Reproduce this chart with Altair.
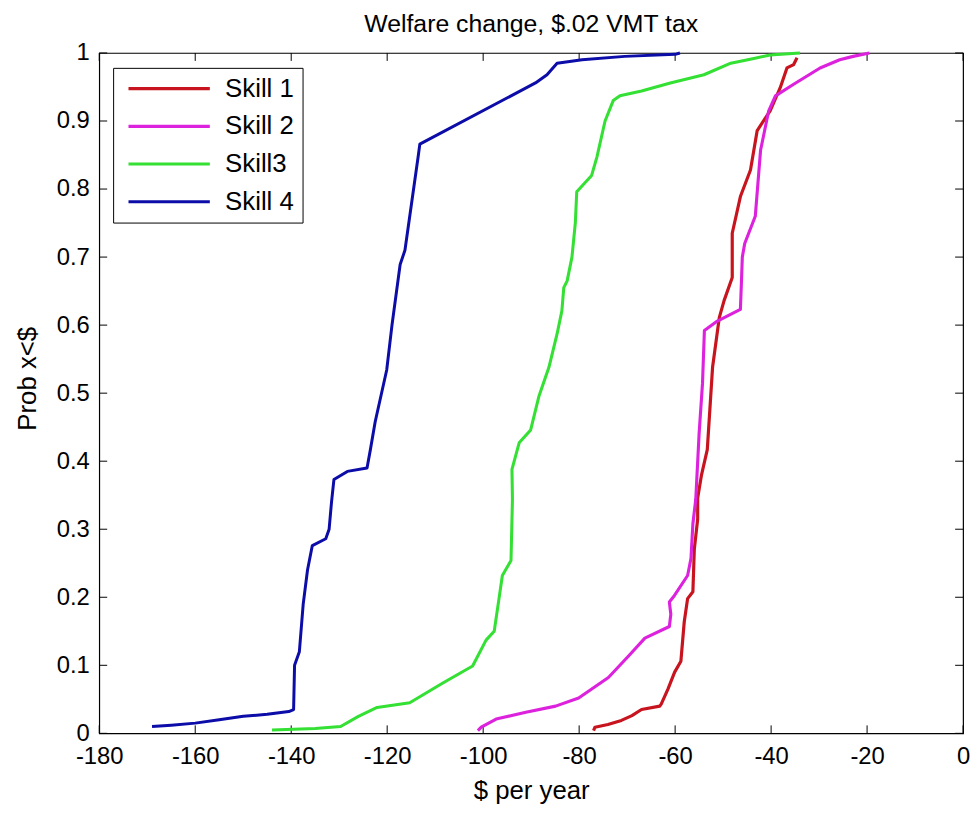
import altair as alt
import pandas as pd

# ---- data ----
SERIES = ["Skill 1", "Skill 2", "Skill3", "Skill 4"]
COLORS = ["#c8141e", "#dd22dd", "#33e033", "#0c0ca8"]
WIDTHS = [3.2, 3.0, 3.2, 4.0]

SKILL1_X = [-77.0, -76.7, -74.0, -71.2, -69.0, -67.0, -63.2, -62.9, -61.5, -60.1, -58.8, -58.1, -57.4,
            -56.3, -56.0, -55.3, -55.3, -54.5, -53.3, -52.2, -50.8, -49.8, -48.1, -48.1, -48.1, -46.4,
            -44.3, -42.9, -40.2, -38.1, -36.7, -35.3, -34.6]
SKILL1_P = [0.004, 0.009, 0.013, 0.019, 0.026, 0.035, 0.04, 0.043, 0.065, 0.09, 0.106, 0.164, 0.198,
            0.208, 0.271, 0.315, 0.346, 0.38, 0.417, 0.538, 0.611, 0.636, 0.67, 0.708, 0.735, 0.789,
            0.828, 0.886, 0.915, 0.949, 0.978, 0.983, 0.993]

SKILL2_X = [-101.1, -100.4, -97.3, -91.1, -84.9, -80.1, -73.9, -69.8, -66.3, -61.2, -60.9, -61.2,
            -60.1, -57.4, -56.7, -56.3, -55.7, -55.0, -54.3, -53.9, -51.2, -46.4, -46.2, -46.0, -45.5,
            -43.3, -42.2, -40.5, -39.1, -35.3, -29.8, -25.7, -22.9, -19.5]
SKILL2_P = [0.004, 0.009, 0.021, 0.031, 0.04, 0.052, 0.082, 0.113, 0.14, 0.157, 0.175, 0.193,
            0.203, 0.232, 0.257, 0.308, 0.344, 0.441, 0.514, 0.592, 0.606, 0.623, 0.66, 0.70, 0.72,
            0.76, 0.857, 0.915, 0.937, 0.954, 0.978, 0.99, 0.995, 1.0]

SKILL3_X = [-144.0, -135.0, -129.7, -126.0, -122.1, -115.3, -108.4, -102.2, -99.4, -97.7, -96.7,
            -96.0, -94.2, -93.9, -94.0, -92.5, -90.1, -88.4, -86.3, -84.6, -83.6, -83.2, -82.5, -81.5,
            -80.8, -80.5, -77.4, -76.3, -74.6, -72.9, -71.5, -67.0, -61.0, -54.0, -48.4, -43.6, -40.2,
            -34.0]
SKILL3_P = [0.005, 0.007, 0.01, 0.025, 0.038, 0.045, 0.074, 0.099, 0.137, 0.15, 0.198,
            0.232, 0.254, 0.344, 0.388, 0.427, 0.446, 0.495, 0.538, 0.587, 0.621, 0.655, 0.665, 0.70,
            0.75, 0.796, 0.82, 0.847, 0.90, 0.93, 0.937, 0.944, 0.956, 0.968, 0.985, 0.992, 0.997,
            1.0]

SKILL4_X = [-169.0, -165.0, -160.0, -155.0, -150.0, -145.0, -140.5, -139.5, -139.3, -138.3, -137.5,
            -136.6, -135.6, -132.8, -132.1, -131.6, -131.1, -128.3, -124.2, -123.5, -122.5, -120.1,
            -119.0, -117.3, -116.3, -113.5, -113.2, -89.1, -86.7, -84.6, -79.4, -70.5, -60.0, -59.0]
SKILL4_P = [0.01, 0.012, 0.015, 0.02, 0.025, 0.028, 0.032, 0.035, 0.10, 0.12, 0.19,
            0.24, 0.276, 0.286, 0.30, 0.34, 0.373, 0.385, 0.39, 0.417, 0.458, 0.534,
            0.60, 0.689, 0.71, 0.85, 0.866, 0.956, 0.968, 0.985, 0.99, 0.995, 0.998, 1.0]

X_TICKS = [-180, -160, -140, -120, -100, -80, -60, -40, -20, 0]
Y_TICKS = [0, 0.1, 0.2, 0.3, 0.4, 0.5, 0.6, 0.7, 0.8, 0.9, 1]

TITLE = "Welfare change, $.02 VMT tax"
X_TITLE = "$ per year"
Y_TITLE = "Prob x<$"

# ---- build table ----
rows = []
for name, xs, ps in zip(SERIES, [SKILL1_X, SKILL2_X, SKILL3_X, SKILL4_X],
                        [SKILL1_P, SKILL2_P, SKILL3_P, SKILL4_P]):
    for i, (x, p) in enumerate(zip(xs, ps)):
        rows.append({"series": name, "x": x, "p": p, "order": i})
df = pd.DataFrame(rows)
xt = pd.DataFrame({"v": X_TICKS})
yt = pd.DataFrame({"v": Y_TICKS})

W, H = 871, 686
FONT = "Liberation Sans"
TL = 8  # inward tick length

xscale = alt.Scale(domain=[-180, 0], nice=False, zero=False)
yscale = alt.Scale(domain=[0, 1], nice=False, zero=False)

lines = alt.Chart(df).mark_line(strokeJoin="round").encode(
    x=alt.X("x:Q", scale=xscale, title=X_TITLE,
            axis=alt.Axis(values=X_TICKS, ticks=False, tickSize=0, domain=False, grid=False,
                          labelFontSize=24, labelFont=FONT, labelColor="black",
                          labelPadding=23, labelBaseline="middle", labelFlush=False,
                          labelOverlap=False,
                          labelExpr="datum.value < 0 ? '-' + (-datum.value) : '' + datum.value",
                          titleFontSize=26, titleFont=FONT, titleFontWeight="normal",
                          titleColor="black", titleY=58, titleBaseline="middle")),
    y=alt.Y("p:Q", scale=yscale, title=Y_TITLE,
            axis=alt.Axis(values=Y_TICKS, ticks=False, tickSize=0, domain=False, grid=False,
                          labelFontSize=24, labelFont=FONT, labelColor="black",
                          labelPadding=10, labelBaseline="middle", labelFlush=False,
                          labelOverlap=False,
                          labelExpr="'' + datum.value",
                          titleFontSize=26, titleFont=FONT, titleFontWeight="normal",
                          titleColor="black", titleX=-72, titleY=H / 2 - 15, titleAngle=270,
                          titleBaseline="middle", titleAlign="center")),
    color=alt.Color("series:N", scale=alt.Scale(domain=SERIES, range=COLORS),
                    legend=alt.Legend(title=None, orient="none", legendX=14, legendY=15,
                                      symbolType="stroke", symbolSize=6724, symbolStrokeWidth=3,
                                      symbolOffset=5.5, labelOffset=13.4, clipHeight=26,
                                      rowPadding=12, padding=8, labelFontSize=26,
                                      labelFont=FONT, labelColor="black",
                                      strokeColor="black", fillColor="white",
                                      labelLimit=300)),
    strokeWidth=alt.StrokeWidth("series:N", scale=alt.Scale(domain=SERIES, range=WIDTHS),
                                legend=None),
    order="order:Q",
)

tick_b = alt.Chart(xt).mark_rule(color="black", strokeWidth=1).encode(
    x=alt.X("v:Q", scale=xscale), y=alt.value(H), y2=alt.value(H - TL))
tick_t = alt.Chart(xt).mark_rule(color="black", strokeWidth=1).encode(
    x=alt.X("v:Q", scale=xscale), y=alt.value(0), y2=alt.value(TL))
tick_l = alt.Chart(yt).mark_rule(color="black", strokeWidth=1).encode(
    y=alt.Y("v:Q", scale=yscale), x=alt.value(0), x2=alt.value(TL))
tick_r = alt.Chart(yt).mark_rule(color="black", strokeWidth=1).encode(
    y=alt.Y("v:Q", scale=yscale), x=alt.value(W), x2=alt.value(W - TL))

chart = alt.layer(tick_b, tick_t, tick_l, tick_r, lines).properties(
    width=W, height=H,
    title=alt.TitleParams(TITLE, fontSize=25, font=FONT, fontWeight="normal", color="black",
                          anchor="middle", baseline="alphabetic", offset=4, dy=20),
    autosize=alt.AutoSizeParams(type="none"),
    padding={"left": 92, "top": 42, "right": 9, "bottom": 80},
    background="white",
).configure_view(stroke="black", strokeWidth=1.2)

chart.save("out.html", embed_options={"renderer": "svg", "actions": False})
